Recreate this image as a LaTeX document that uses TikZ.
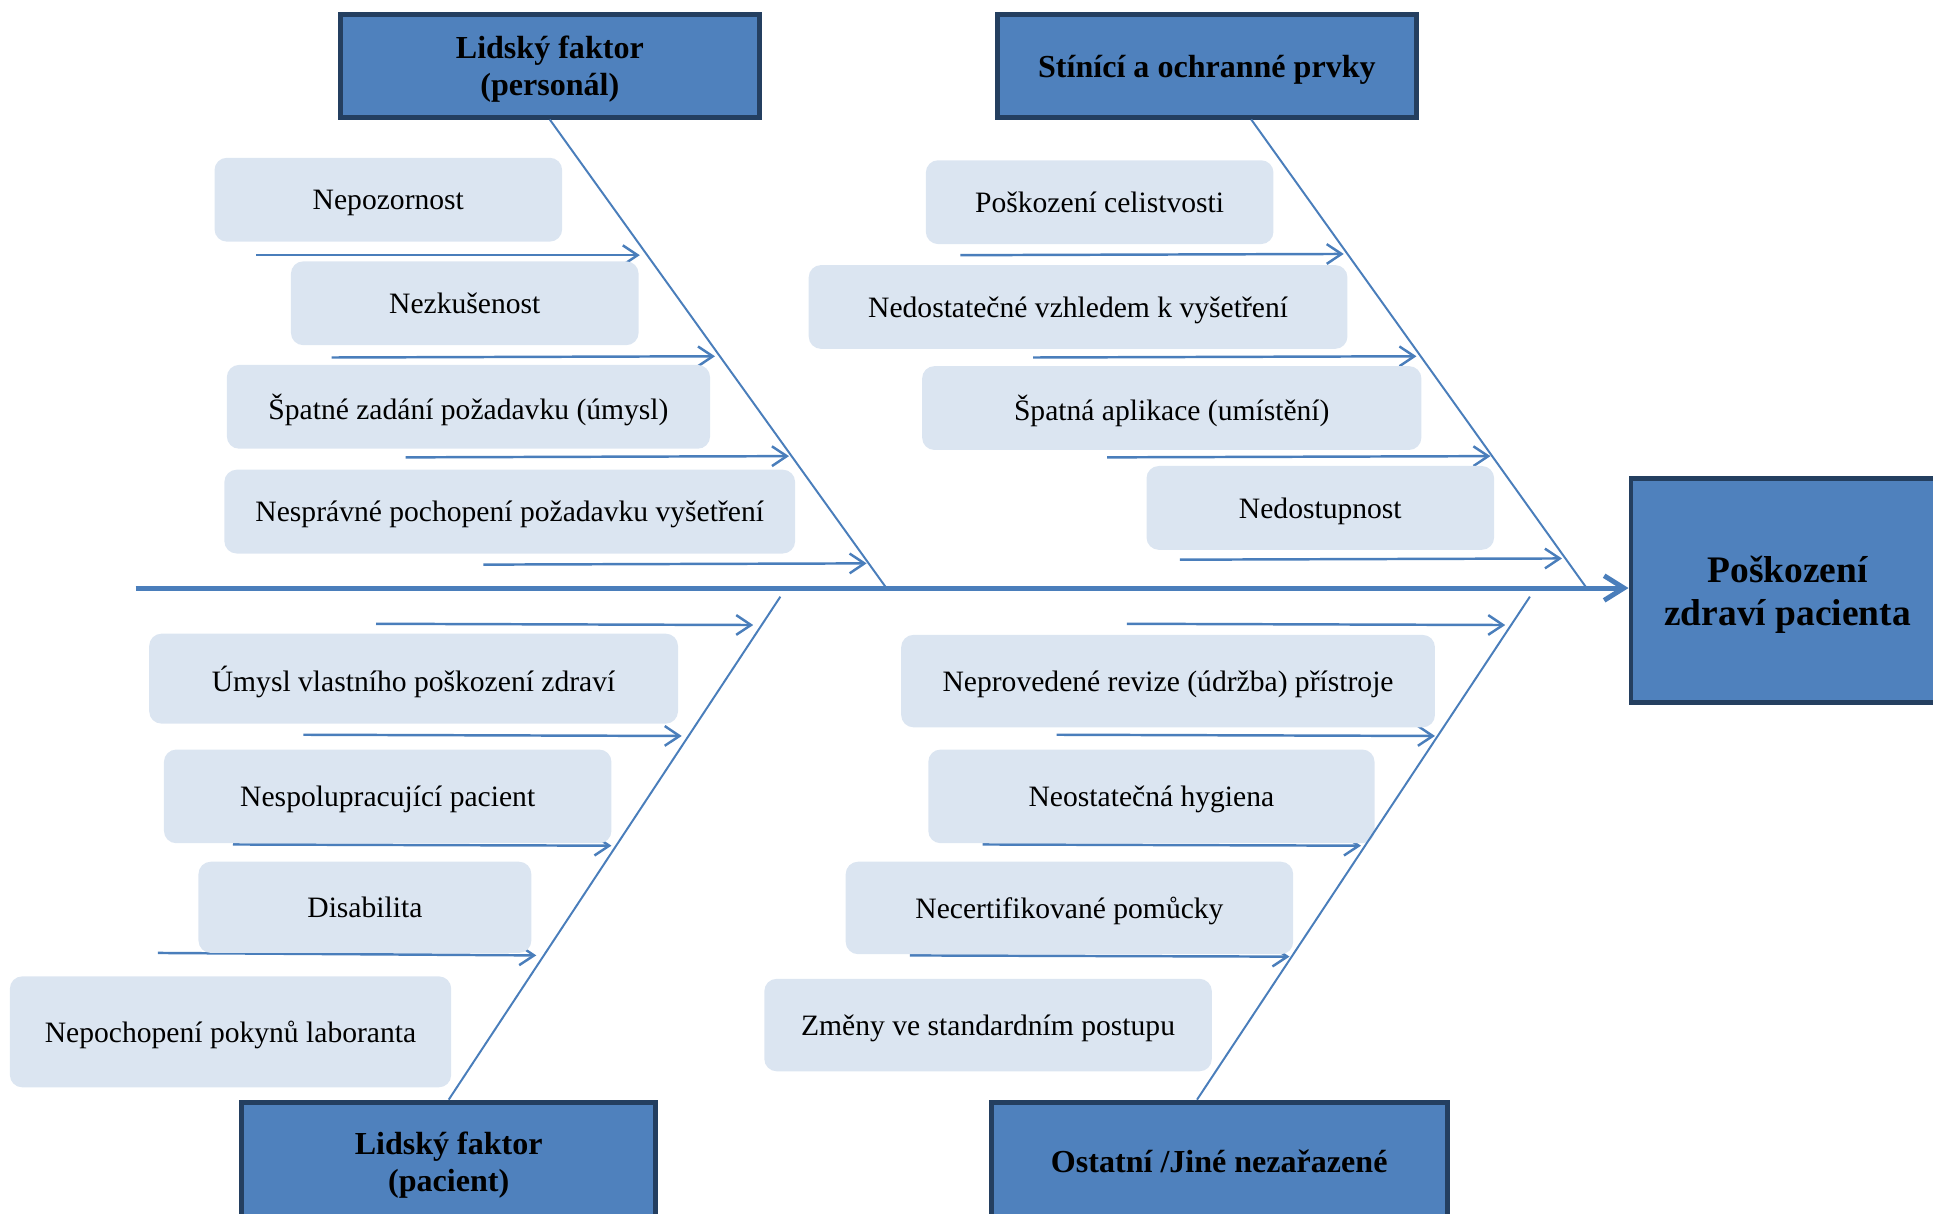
\documentclass[tikz,border=0pt]{standalone}
\usepackage{fontspec}
\setmainfont{Liberation Serif}
\usetikzlibrary{arrows.meta,calc}
\definecolor{headblue}{HTML}{4F81BD}
\definecolor{headedge}{HTML}{243F60}
\definecolor{causefill}{HTML}{DBE5F1}
\definecolor{bonecol}{HTML}{4A7EBB}

\begin{document}
\begin{tikzpicture}[x=0.5pt, y=-0.5pt]
    \useasboundingbox (0,0) rectangle (1568,984);
    \tikzset{head/.style={draw=headedge, line width=2pt, fill=headblue, align=center, inner sep=0pt, text depth=0pt,
                          font=\bfseries\fontsize{13}{15}\selectfont},
             cause/.style={fill=causefill, rounded corners=5pt, minimum height=34pt, inner sep=0pt, text depth=0pt,
                           font=\fontsize{12}{14}\selectfont},
             bone/.style={draw=bonecol, line width=0.8pt},
             sub/.style={draw=bonecol, line width=1pt, -{Straight Barb[length=6pt,width=8pt]}},
             spine/.style={draw=bonecol, line width=2pt, -{Straight Barb[length=8pt,width=10pt,line width=2pt]}}}
    % SMALL ARROWS INTO THE BONES
    \foreach \n/\xa/\ya/\xb/\yb in {tl1/208/207/519/207, tl2/269/290/580/289, tl3/329/371/640/370, tl4/392/458/703/457,
                                    tr1/779/207/1090/206, tr2/838/290/1149/289, tr3/898/371/1209/370, tr4/957/454/1267/453,
                                    bl1/305/506/611/507, bl2/246/596/553/597, bl3/189/685/496/686, bl4/128/773/435/775,
                                    br1/914/506/1221/507, br2/857/596/1164/597, br3/797/685/1104/686, br4/738/775/1046/776} {
        \coordinate (\n-s) at (\xa,\ya);
        \coordinate (\n-e) at (\xb,\yb);
        \draw[sub] (\n-s) -- (\n-e);
    }
    % CAUSES TOP LEFT
    \node[cause, minimum width=141pt] (tl1) at (315,162) {Nepozornost};
    \node[cause, minimum width=141pt] (tl2) at (377,246) {Nezkušenost};
    \node[cause, minimum width=196pt] (tl3) at (380,330) {Špatné zadání požadavku (úmysl)};
    \node[cause, minimum width=231.5pt] (tl4) at (413.5,415) {Nesprávné pochopení požadavku vyšetření};
    % CAUSES TOP RIGHT
    \node[cause, minimum width=141pt] (tr1) at (892,164) {Poškození celistvosti};
    \node[cause, minimum width=218.5pt] (tr2) at (874.5,249) {Nedostatečné vzhledem k vyšetření};
    \node[cause, minimum width=202.5pt] (tr3) at (950.5,331) {Špatná aplikace (umístění)};
    \node[cause, minimum width=141pt] (tr4) at (1071,412) {Nedostupnost};
    % CAUSES BOTTOM LEFT
    \node[cause, minimum width=214.5pt, minimum height=36.5pt] (bl1) at (335.5,550.5) {Úmysl vlastního poškození zdraví};
    \node[cause, minimum width=181.5pt, minimum height=38pt] (bl2) at (314.5,646) {Nespolupracující pacient};
    \node[cause, minimum width=135pt, minimum height=37pt] (bl3) at (296,736) {Disabilita};
    \node[cause, minimum width=179pt, minimum height=45pt] (bl4) at (187,837) {Nepochopení pokynů laboranta};
    % CAUSES BOTTOM RIGHT
    \node[cause, minimum width=216.5pt, minimum height=37.5pt] (br1) at (947.5,552.5) {Neprovedené revize (údržba) přístroje};
    \node[cause, minimum width=181pt, minimum height=38pt] (br2) at (934,646) {Neostatečná hygiena};
    \node[cause, minimum width=181.5pt, minimum height=37.5pt] (br3) at (867.5,736.5) {Necertifikované pomůcky};
    \node[cause, minimum width=181.5pt, minimum height=37.5pt] (br4) at (801.5,831.5) {Změny ve standardním postupu};
    % CATEGORY BOXES
    \node[head, minimum width=170pt, minimum height=41.5pt] (staff) at (446,53.5) {Lidský faktor\\(personál)};
    \node[head, minimum width=170pt, minimum height=41.5pt] (shield) at (979,53.5) {Stínící a ochranné prvky};
    \node[head, minimum width=168pt, minimum height=48pt] (patient) at (364,942) {Lidský faktor\\(pacient)};
    \node[head, minimum width=185pt, minimum height=48pt] (other) at (989,942) {Ostatní /Jiné nezařazené};
    % EFFECT
    \node[head, minimum width=127pt, minimum height=91pt, font=\bfseries\fontsize{15.2}{17.5}\selectfont] (effect) at (1450,479) {Poškození\\zdraví pacienta};
    % BONES
    \coordinate (staff-end) at (719,477);
    \coordinate (shield-top) at (1015,97);
    \coordinate (shield-end) at (1287,477);
    \coordinate (patient-end) at (633,484);
    \coordinate (other-top) at (971,892);
    \coordinate (other-end) at (1241,484);
    \draw[bone] (staff.south) -- (staff-end);
    \draw[bone] (shield-top) -- (shield-end);
    \draw[bone] (patient.north) -- (patient-end);
    \draw[bone] (other-top) -- (other-end);
    % SPINE
    \coordinate (tail) at (110,477);
    \draw[spine] (tail) -- (tail -| effect.west);
\end{tikzpicture}
\end{document}
